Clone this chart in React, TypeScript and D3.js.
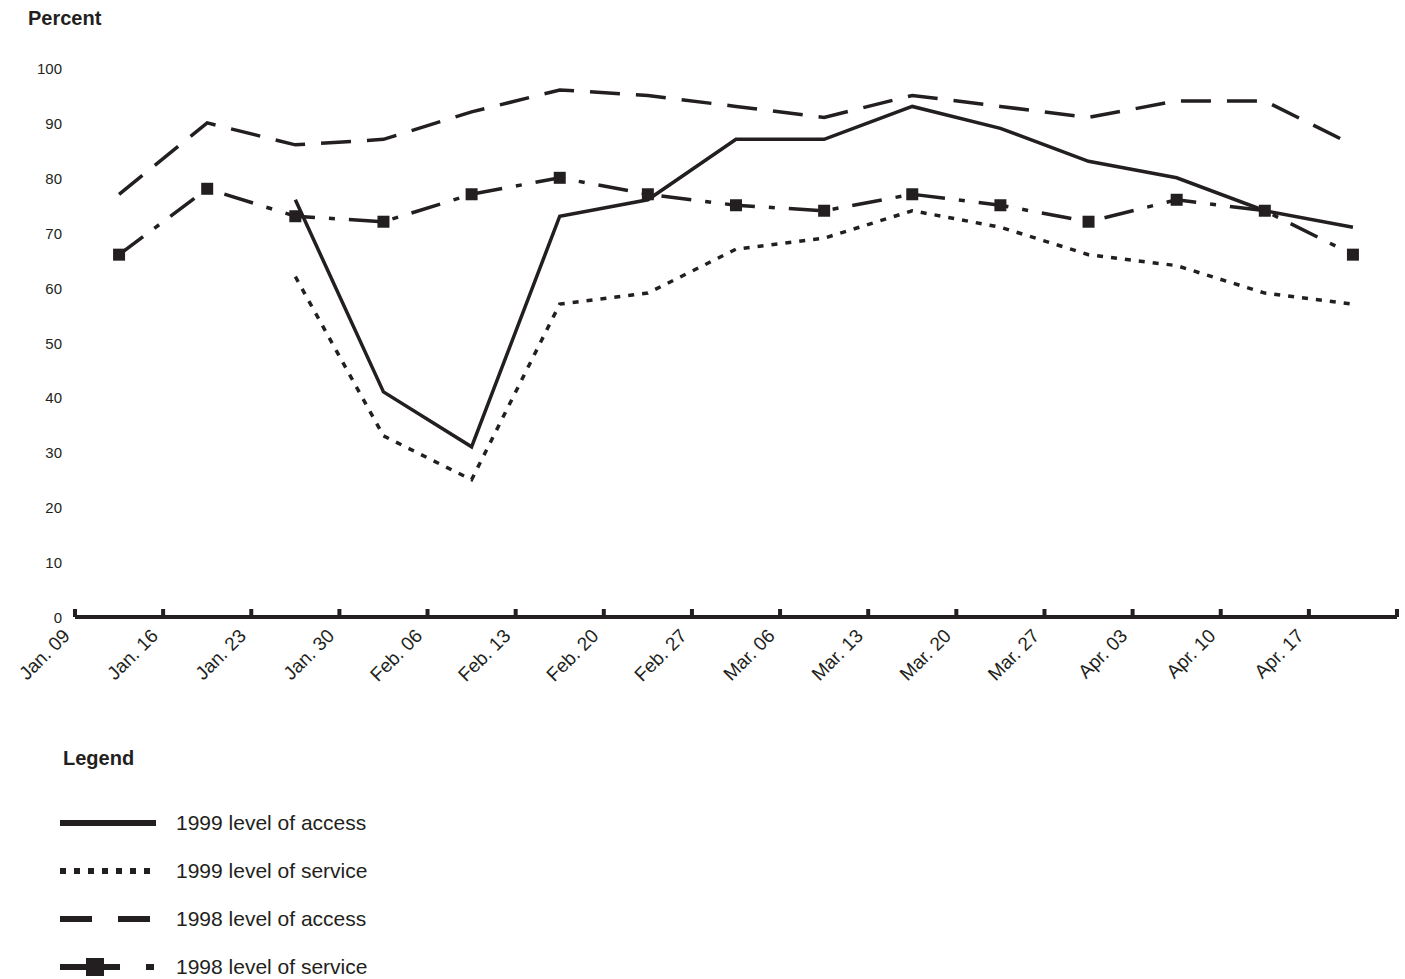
import * as d3 from 'd3';

const dates = ['Jan. 09','Jan. 16','Jan. 23','Jan. 30','Feb. 06','Feb. 13','Feb. 20','Feb. 27','Mar. 06','Mar. 13','Mar. 20','Mar. 27','Apr. 03','Apr. 10','Apr. 17'];
const access1998 = [77, 90, 86, 87, 92, 96, 95, 93, 91, 95, 93, 91, 94, 94, 86];
const service1998 = [66, 78, 73, 72, 77, 80, 77, 75, 74, 77, 75, 72, 76, 74, 66];
const access1999 = [null, null, 76, 41, 31, 73, 76, 87, 87, 93, 89, 83, 80, 74, 71];
const service1999 = [null, null, 62, 33, 25, 57, 59, 67, 69, 74, 71, 66, 64, 59, 57];
const yTicks = [0, 10, 20, 30, 40, 50, 60, 70, 80, 90, 100];

const W = 1405, H = 979;
const x0 = 75, x1 = 1397, yBase = 617, yTop = 68;
const FONT = 'Liberation Sans, Arial, sans-serif';

export default function App() {
  const band = d3.scaleBand<number>().domain(d3.range(15)).range([x0, x1]).padding(0);
  const cx = (i: number) => (band(i) as number) + band.bandwidth() / 2;
  const y = d3.scaleLinear().domain([0, 100]).range([yBase, yTop]);
  const line = d3.line<number | null>().defined((d) => d != null).x((_, i) => cx(i)).y((d) => y(d as number));

  const series = [
    { vals: access1998, dash: '30 16' },
    { vals: service1998, dash: '30 14 6 14' },
    { vals: service1999, dash: '6 8' },
    { vals: access1999, dash: undefined },
  ];
  const legend = [
    { label: '1999 level of access', dash: undefined, marker: false },
    { label: '1999 level of service', dash: '6 8', marker: false },
    { label: '1998 level of access', dash: '32 26', marker: false },
    { label: '1998 level of service', dash: '60 26 8 100', marker: true },
  ];
  return (
    <svg width={W} height={H} style={{ position: 'absolute', left: 0, top: 0, background: '#fff' }} fontFamily={FONT}>
      <text x={28} y={25} fontSize={20} fontWeight="bold" fill="#231f20">Percent</text>
      {yTicks.map((t) => (
        <text key={t} x={62} y={y(t) + 6} fontSize={15} textAnchor="end" fill="#231f20">{t}</text>
      ))}
      <line x1={x0} x2={x1} y1={yBase} y2={yBase} stroke="#231f20" strokeWidth={4} />
      {dates.map((d, i) => {
        const tx = band(i) as number;
        return (
          <g key={d}>
            <line x1={tx} x2={tx} y1={yBase} y2={yBase - 8} stroke="#231f20" strokeWidth={4} />
            <text transform={`translate(${tx - 4},${yBase + 20}) rotate(-45)`} textAnchor="end" fontSize={19} fill="#231f20">{d}</text>
          </g>
        );
      })}
      <line x1={x1} x2={x1} y1={yBase} y2={yBase - 8} stroke="#231f20" strokeWidth={4} />
      {series.map((s, k) => (
        <path key={k} d={line(s.vals as (number | null)[]) || ''} fill="none" stroke="#231f20" strokeWidth={3.5} strokeDasharray={s.dash} />
      ))}
      {service1998.map((v, i) => (
        <rect key={i} x={cx(i) - 6} y={y(v) - 6} width={12} height={12} fill="#231f20" />
      ))}
      <text x={63} y={765} fontSize={20} fontWeight="bold" fill="#231f20">Legend</text>
      {legend.map((l, i) => {
        const ly = 823 + i * 48;
        return (
          <g key={l.label}>
            <line x1={60} x2={156} y1={ly} y2={ly} stroke="#231f20" strokeWidth={6} strokeDasharray={l.dash} />
            {l.marker && <rect x={86} y={ly - 9} width={18} height={18} fill="#231f20" />}
            <text x={176} y={ly + 7} fontSize={21} fill="#231f20">{l.label}</text>
          </g>
        );
      })}
    </svg>
  );
}
